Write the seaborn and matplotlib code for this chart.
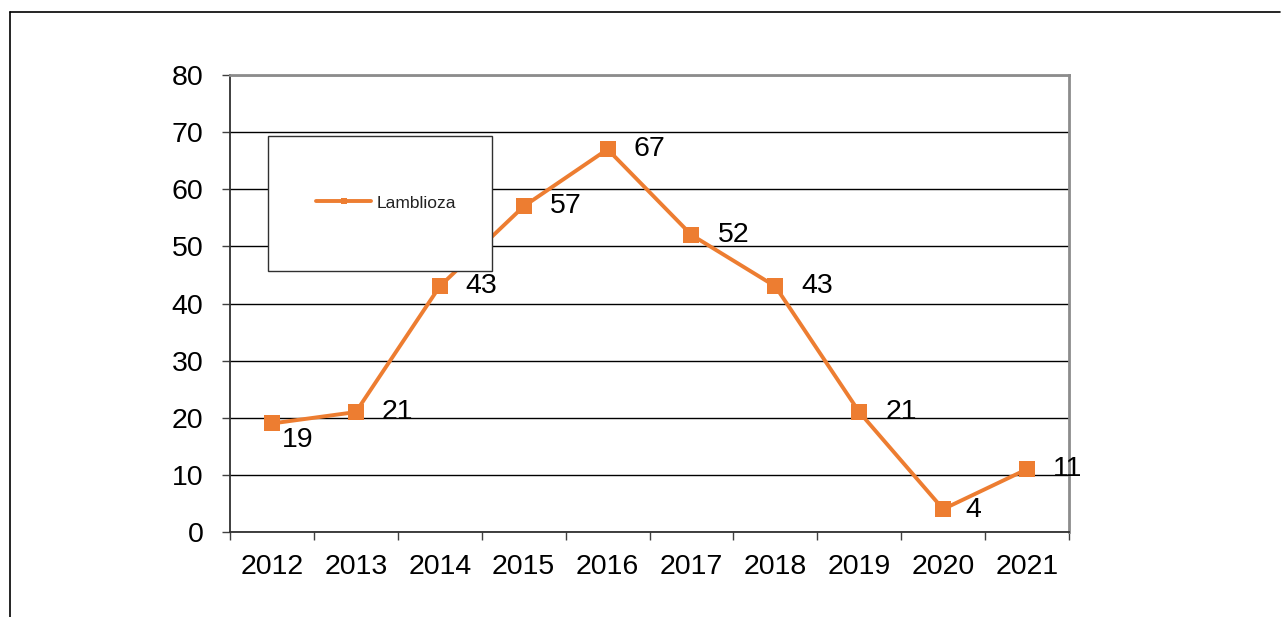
import matplotlib
matplotlib.use("Agg")
import matplotlib.pyplot as plt
import seaborn as sns
import pandas as pd
from matplotlib.lines import Line2D
from matplotlib.patches import Rectangle
from matplotlib.ticker import FixedLocator

years = ["2012", "2013", "2014", "2015", "2016", "2017", "2018", "2019", "2020", "2021"]
cases = [19, 21, 43, 57, 67, 52, 43, 21, 4, 11]
series_name = "Lamblioza"
y_ticks = [0, 10, 20, 30, 40, 50, 60, 70, 80]

orange = "#ED7D31"

sns.set_style("white")
plt.rcParams["font.family"] = ["Liberation Sans", "DejaVu Sans"]

df = pd.DataFrame({"year": years, "cases": cases})

fig = plt.figure(figsize=(12.81, 6.17), dpi=100)
ax = fig.add_axes([230 / 1281, 1 - 532 / 617, 839 / 1281, 457 / 617])

sns.lineplot(data=df, x="year", y="cases", sort=False, color=orange,
             linewidth=2.8, marker="s", markersize=12, markeredgewidth=0,
             label=series_name, ax=ax, zorder=3)

ax.set_xlim(-0.5, len(years) - 0.5)
ax.set_ylim(0, 80)
ax.set_xlabel("")
ax.set_ylabel("")

# y axis
ax.yaxis.set_major_locator(FixedLocator(y_ticks))
ax.tick_params(axis="y", which="major", direction="out", length=6, width=1,
               color="#404040", pad=13, labelsize=20.5, labelcolor="black", left=True)
ax.grid(axis="y", color="black", linewidth=1)
ax.grid(axis="x", visible=False)

# x axis: labels in the middle, ticks at the boundaries
ax.set_xticks(range(len(years)))
ax.set_xticklabels(years)
ax.set_xticks([i - 0.5 for i in range(len(years) + 1)], minor=True)
ax.tick_params(axis="x", which="major", length=0, pad=16, labelsize=20.5, labelcolor="black")
ax.tick_params(axis="x", which="minor", direction="out", length=6, width=1,
               color="#404040", bottom=True)

for s in ["left", "bottom"]:
    ax.spines[s].set_color("#303030")
    ax.spines[s].set_linewidth(1.3)
for s in ["top", "right"]:
    ax.spines[s].set_color("#8c8c8c")
    ax.spines[s].set_linewidth(2)

# data labels
for i, v in enumerate(cases):
    if i == 0:
        off = (10, -17)
    elif v == 4:
        off = (22, -1)
    else:
        off = (26, 0)
    ax.annotate(str(v), (i, v), xytext=off, textcoords="offset pixels",
                ha="left", va="center", fontsize=20.5, color="black", zorder=6)

# legend inside its own white box
box = Rectangle((38 / 839, 261 / 457), 224 / 839, 135 / 457, transform=ax.transAxes,
                facecolor="white", edgecolor="#303030", linewidth=1, zorder=4.5)
ax.add_patch(box)
leg = ax.legend(loc="center", bbox_to_anchor=(156 / 839, 329 / 457), frameon=False,
                fontsize=12.5, handlelength=3.2, handletextpad=0.3)
leg.set_zorder(5)
for t in leg.get_texts():
    t.set_color("#222222")
for h in leg.legend_handles:
    h.set_markersize(5)

# outer frame lines (top and left)
fig.add_artist(Line2D([10 / 1281, 1280 / 1281], [1 - 12 / 617, 1 - 12 / 617],
                      color="black", linewidth=1.2))
fig.add_artist(Line2D([10 / 1281, 10 / 1281], [0, 1 - 12 / 617],
                      color="black", linewidth=1.2))

fig.savefig("out.png", dpi=100)
